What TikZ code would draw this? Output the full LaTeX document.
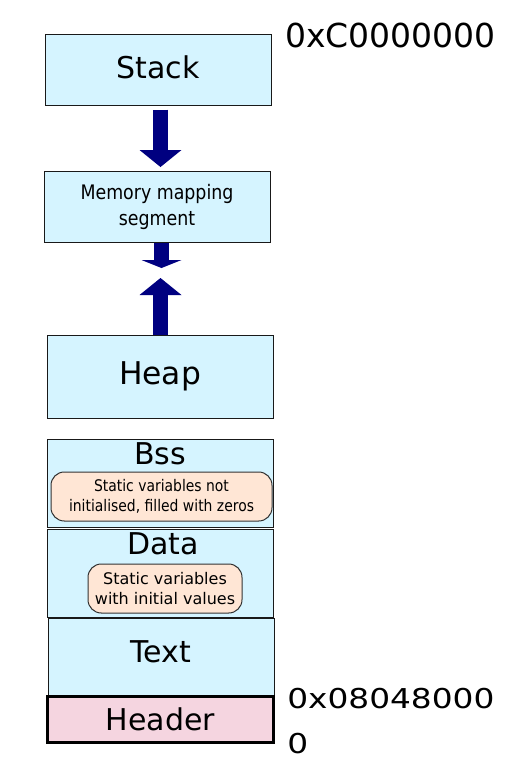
\documentclass[tikz,border=0pt]{standalone}
\usepackage{fontspec}
\setmainfont{DejaVu Sans}
\newfontfamily\narrowfont[FakeStretch=0.87]{DejaVu Sans}
\newfontfamily\addrfont[FakeStretch=1.2]{DejaVu Sans}
\usepackage{tikz}
\usetikzlibrary{arrows.meta}

\definecolor{segblue}{RGB}{213,244,255}
\definecolor{notepeach}{RGB}{255,230,213}
\definecolor{headpink}{RGB}{245,213,224}
\definecolor{navyarrow}{RGB}{0,0,128}

\begin{document}
\begin{tikzpicture}[
    x=0.75pt, y=-0.75pt,
    segbox/.style={draw=black!90, line width=0.75pt, fill=segblue,
        minimum width=169.5pt, inner sep=0pt,
        font=\fontsize{22.5}{27}\selectfont},
    notebox/.style={draw=black!80, line width=0.75pt, fill=notepeach,
        rounded corners=10pt, align=center, inner sep=0pt,
        minimum height=36.75pt, font=\fontsize{12}{15}\selectfont},
    bigarrow/.style={draw=navyarrow, line width=11.25pt,
        -{Triangle[width=31.5pt, length=12.75pt, line width=0pt]}},
    addr/.style={anchor=west, inner sep=0pt, align=left}
]
\useasboundingbox (0,0) rectangle (523,764);

% segments, top to bottom
\node[segbox, minimum height=53.25pt, text depth=4pt] (stack) at (158,69.5) {Stack};
\node[segbox, minimum height=53.25pt, align=center,
      font=\narrowfont\fontsize{15}{19.5}\selectfont] (mmap) at (157,206.5)
      {Memory mapping\\segment};
\node[segbox, minimum height=62.25pt, font=\fontsize{23.5}{27}\selectfont] (heap) at (160,376.5) {Heap};
\node[segbox, minimum height=66pt] (bss) at (160,483) {};
\node[segbox, minimum height=66pt] (data) at (160,573) {};
\node[segbox, minimum height=58.5pt, text depth=8pt] (text) at (161,657) {Text};
\node[segbox, minimum height=34.5pt, fill=headpink, line width=2.25pt,
      draw=black] (header) at (160.5,719) {Header};

\node[inner sep=0pt, font=\fontsize{22.5}{27}\selectfont] (bsstitle) at (160,454) {Bss};
\node[notebox, minimum width=165.75pt, font=\narrowfont\fontsize{12}{15}\selectfont]
    (bssnote) at (161.5,496.5) {Static variables not\\initialised, filled with zeros};
\node[inner sep=0pt, font=\fontsize{22.5}{27}\selectfont] (datatitle) at (163,544) {Data};
\node[notebox, minimum width=115.5pt] (datanote) at (165,588.5)
    {Static variables\\with initial values};

% growth arrows
\coordinate (stackaxis) at (160.5,167);
\coordinate (mmtip) at (161.5,268);
\coordinate (heaptip) at (160.5,278);
\draw[bigarrow, shorten <=3pt] (stackaxis |- stack.south) -- (stackaxis);
\draw[draw=navyarrow, line width=11.25pt,
      -{Triangle[width=30pt, length=6pt, line width=0pt]}]
    (mmtip |- mmap.south) -- (mmtip);
\draw[bigarrow] (heaptip |- heap.north) -- (heaptip);

% addresses
\node[addr, font=\fontsize{24.75}{28}\selectfont] (top) at (285,35) {0xC0000000};
\node[addr, anchor=north west, font=\addrfont\fontsize{20.5}{33.75}\selectfont]
    (bottom) at (287,688) {0x08048000\\0};
\end{tikzpicture}
\end{document}
